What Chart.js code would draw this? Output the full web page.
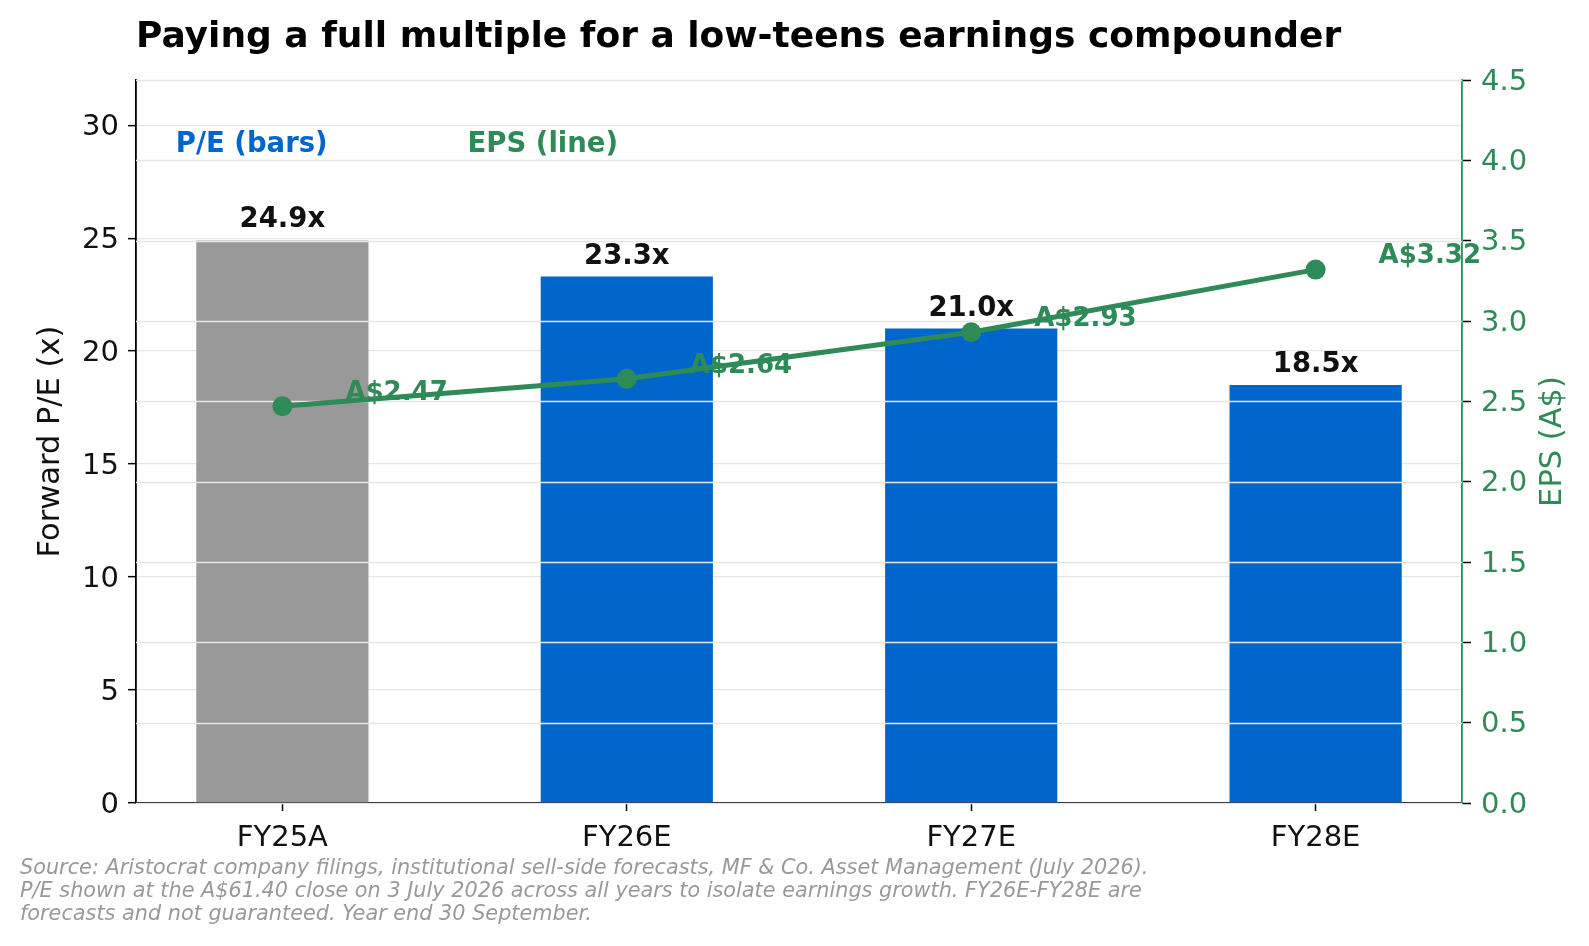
<!DOCTYPE html>
<html>
<head>
<meta charset="utf-8">
<title>Paying a full multiple for a low-teens earnings compounder</title>
<script src="https://cdn.jsdelivr.net/npm/chart.js@4.4.1/dist/chart.umd.min.js"></script>
<style>
  html, body { margin: 0; padding: 0; background: #fff; }
  #wrap { width: 1589px; height: 946px; position: relative; }
</style>
</head>
<body>
<div id="wrap"><canvas id="peChart"></canvas></div>
<script>
// values
const years = ['FY25A', 'FY26E', 'FY27E', 'FY28E'];
const peMultiples = [24.9, 23.3, 21.0, 18.5];
const epsValues = [2.47, 2.64, 2.93, 3.32];
const peTicks = [0, 5, 10, 15, 20, 25, 30];
const epsTicks = [0, 0.5, 1.0, 1.5, 2.0, 2.5, 3.0, 3.5, 4.0, 4.5];

const FONT = '"DejaVu Sans", "Liberation Sans", sans-serif';
const BLUE = '#0066cc';
const GRAY = '#999999';
const GREEN = '#2e8b57';
const GRID = '#e6e6e6';

const footnote = [
    'Source: Aristocrat company filings, institutional sell-side forecasts, MF & Co. Asset Management (July 2026).',
    'P/E shown at the A$61.40 close on 3 July 2026 across all years to isolate earnings growth. FY26E-FY28E are',
    'forecasts and not guaranteed. Year end 30 September.'
];

// text, the right-axis grid (drawn over the bars) and point labels
const decorPlugin = {
    id: 'decor',
    beforeDatasetDraw(chart, args) {
        if (args.meta.type !== 'line') return;
        const ctx = chart.ctx, area = chart.chartArea, y1 = chart.scales.y1;
        ctx.save();
        ctx.strokeStyle = GRID;
        ctx.lineWidth = 1.3;
        y1.ticks.forEach(t => {
            const py = Math.round(y1.getPixelForValue(t.value)) + 0.5;
            ctx.beginPath();
            ctx.moveTo(area.left, py);
            ctx.lineTo(area.right, py);
            ctx.stroke();
        });
        ctx.restore();
    },
    afterDatasetsDraw(chart) {
        const ctx = chart.ctx, area = chart.chartArea;
        ctx.save();

        // bar value labels
        ctx.font = 'bold 27.5px ' + FONT;
        ctx.fillStyle = '#111';
        ctx.textAlign = 'center';
        ctx.textBaseline = 'alphabetic';
        chart.getDatasetMeta(0).data.forEach((bar, i) => {
            ctx.fillText(peMultiples[i].toFixed(1) + 'x', bar.x, bar.y - 13);
        });

        // EPS labels
        ctx.font = 'bold 26px ' + FONT;
        ctx.fillStyle = GREEN;
        ctx.textAlign = 'left';
        ctx.textBaseline = 'middle';
        chart.getDatasetMeta(1).data.forEach((pt, i) => {
            ctx.fillText('A$' + epsValues[i].toFixed(2), pt.x + 63, pt.y - 13);
        });

        // series tags inside the plot
        const tagY = area.top + 0.09 * (area.bottom - area.top);
        ctx.font = 'bold 27.5px ' + FONT;
        ctx.fillStyle = BLUE;
        ctx.fillText('P/E (bars)', area.left + 0.03 * (area.right - area.left), tagY);
        ctx.fillStyle = GREEN;
        ctx.fillText('EPS (line)', area.left + 0.25 * (area.right - area.left), tagY);
        ctx.restore();
    },
    afterDraw(chart) {
        const ctx = chart.ctx, area = chart.chartArea;
        const midY = (area.top + area.bottom) / 2;
        ctx.save();

        ctx.font = 'bold 36px ' + FONT;
        ctx.fillStyle = '#000';
        ctx.textAlign = 'left';
        ctx.textBaseline = 'middle';
        ctx.fillText('Paying a full multiple for a low-teens earnings compounder', area.left, 38);

        // axis titles
        ctx.font = '30.5px ' + FONT;
        ctx.textAlign = 'center';
        ctx.translate(51, midY);
        ctx.rotate(-Math.PI / 2);
        ctx.fillStyle = '#111';
        ctx.fillText('Forward P/E (x)', 0, 0);
        ctx.setTransform(1, 0, 0, 1, 0, 0);
        ctx.translate(1553, midY);
        ctx.rotate(-Math.PI / 2);
        ctx.fillStyle = GREEN;
        ctx.fillText('EPS (A$)', 0, 0);
        ctx.setTransform(1, 0, 0, 1, 0, 0);

        // footnote
        ctx.font = 'italic 20.8px ' + FONT;
        ctx.fillStyle = '#999999';
        ctx.textAlign = 'left';
        footnote.forEach((line, i) => ctx.fillText(line, 20, 869 + i * 23));
        ctx.restore();
    }
};

new Chart(document.getElementById('peChart'), {
    data: {
        datasets: [
            {
                type: 'bar',
                label: 'P/E (bars)',
                data: peMultiples.map((v, i) => ({ x: i, y: v })),
                backgroundColor: years.map(y => y.endsWith('A') ? GRAY : BLUE),
                borderWidth: 0,
                categoryPercentage: 1,
                barPercentage: 0.5,
                xAxisID: 'x',
                yAxisID: 'y',
                order: 1
            },
            {
                type: 'line',
                label: 'EPS (line)',
                data: epsValues.map((v, i) => ({ x: i, y: v })),
                borderColor: GREEN,
                backgroundColor: GREEN,
                borderWidth: 5,
                pointRadius: 10,
                pointBorderWidth: 0,
                pointBackgroundColor: GREEN,
                tension: 0,
                xAxisID: 'x',
                yAxisID: 'y1',
                order: 0
            }
        ]
    },
    options: {
        responsive: true,
        maintainAspectRatio: false,
        animation: false,
        layout: { padding: { top: 80, left: 0, right: 0, bottom: 0 } },
        plugins: {
            legend: { display: false },
            title: { display: false },
            tooltip: { enabled: false }
        },
        scales: {
            x: {
                type: 'linear',
                offset: false,
                min: -0.425,
                max: 3.425,
                afterBuildTicks: s => { s.ticks = years.map((_, i) => ({ value: i })); },
                afterFit: s => { s.height = 143; },
                ticks: {
                    callback: v => years[v],
                    font: { family: FONT, size: 29 },
                    color: '#111',
                    padding: 10,
                    maxRotation: 0,
                    autoSkip: false
                },
                grid: { offset: false, drawOnChartArea: false, tickLength: 8, tickColor: '#000', tickWidth: 1.5 },
                border: { color: '#000', width: 1.5 }
            },
            y: {
                position: 'left',
                min: 0,
                max: 32,
                afterBuildTicks: s => { s.ticks = peTicks.map(v => ({ value: v })); },
                afterFit: s => { s.width = 136; },
                ticks: {
                    font: { family: FONT, size: 29 },
                    color: '#111',
                    padding: 9,
                    labelOffset: 2
                },
                grid: { color: GRID, lineWidth: 1.3, tickLength: 8, tickColor: '#000', tickWidth: 1.5 },
                border: { color: '#000', width: 1.8 }
            },
            y1: {
                position: 'right',
                min: 0,
                max: 4.5,
                afterBuildTicks: s => { s.ticks = epsTicks.map(v => ({ value: v })); },
                afterFit: s => { s.width = 127; },
                ticks: {
                    callback: v => v.toFixed(1),
                    font: { family: FONT, size: 29 },
                    color: GREEN,
                    padding: 10,
                    labelOffset: 2
                },
                grid: { drawOnChartArea: false, tickLength: 9, tickColor: '#000', tickWidth: 1.5 },
                border: { color: GREEN, width: 1.8 }
            }
        }
    },
    plugins: [decorPlugin]
});
</script>
</body>
</html>
